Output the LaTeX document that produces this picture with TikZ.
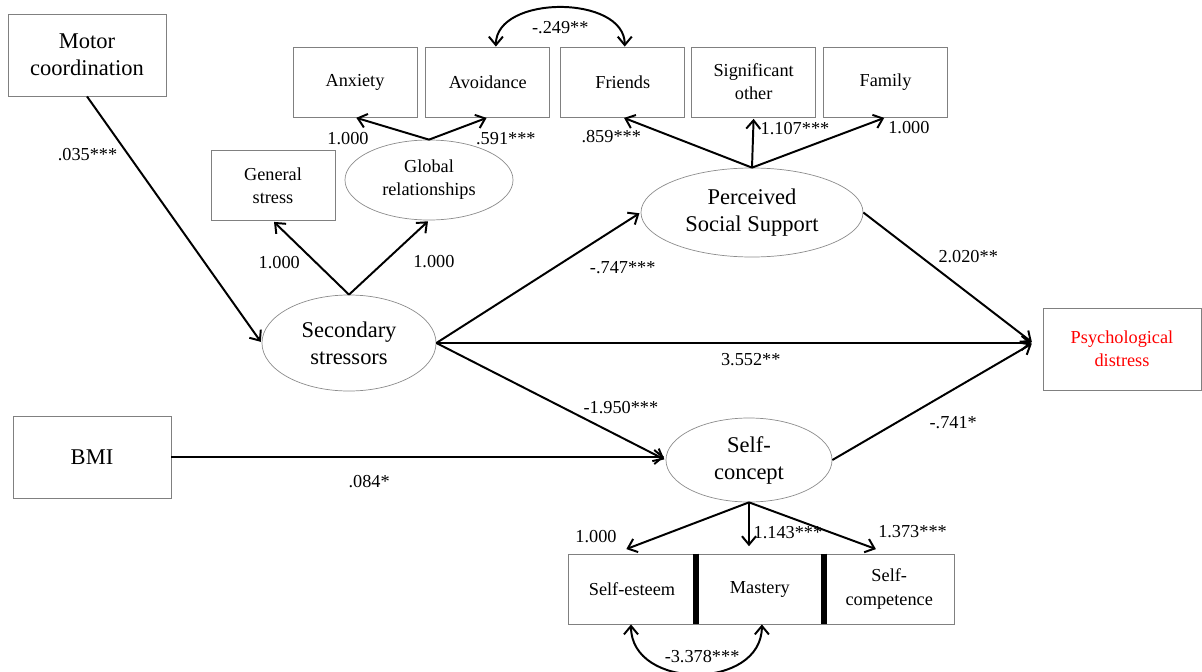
\documentclass[tikz,border=0pt]{standalone}
\usepackage{fontspec}
\setmainfont{Liberation Serif}
\usetikzlibrary{arrows.meta,positioning,shapes.geometric,calc}

\begin{document}
\begin{tikzpicture}[x=0.025cm,y=-0.025cm,->,>={Straight Barb[length=6pt,width=10pt]},shorten >=1pt,
        smallfont/.style={font=\fontsize{13}{16.4}\selectfont},
        bigfont/.style={font=\fontsize{16}{19.2}\selectfont},
        box/.style={rectangle,draw=black!50,line width=.6pt,align=center,inner sep=0pt,smallfont},
        ind/.style={box,minimum width=3.1cm,minimum height=1.75cm},
        bigbox/.style={box,minimum width=3.95cm,minimum height=2.05cm,bigfont},
        latent/.style={ellipse,draw=black!45,line width=.5pt,align=center,inner sep=0pt,bigfont},
        lab/.style={inner sep=0pt,smallfont},
        every edge/.style={draw,line width=1.4pt}]

  \useasboundingbox (0,0) rectangle (1202,671);

  \node[bigbox] (motor) at (87,55) {Motor\\coordination};
  \node[bigbox] (bmi) at (92,457) {BMI};
  \node[bigbox,smallfont,text=red] (psy) at (1122,349) {Psychological\\distress};

  \node[ind] (anx) at (355,82) {Anxiety};
  \node[ind] (avo) [right=0.2cm of anx] {Avoidance};
  \node[ind] (fri) [right=0.25cm of avo] {Friends};
  \node[ind] (sig) [right=0.15cm of fri] {Significant\\other};
  \node[ind] (fam) [right=0.175cm of sig] {Family};
  \node[ind] (gen) at (273,185.5) {General\\stress};

  \node[latent,smallfont,minimum width=4.2cm,minimum height=2cm] (glob) at (429,180) {Global\\relationships};
  \node[latent,minimum width=5.55cm,minimum height=2.225cm] (pss) at (752,212.5) {Perceived\\Social Support};
  \node[latent,minimum width=4.35cm,minimum height=2.4cm] (sec) at (349,343) {Secondary\\stressors};
  \node[latent,minimum width=4.15cm,minimum height=2.1cm] (self) at (749,460) {Self-\\concept};

  \node[ind,minimum width=3.175cm] (est) at (632,589) {Self-esteem};
  \node[ind,minimum width=3.175cm] (mas) [right=0pt of est] {Mastery};
  \node[ind,minimum width=3.25cm] (comp) [right=0pt of mas] {Self-\\competence};

  \coordinate (psyin) at (1033,343);

  \draw[-,shorten >=0pt,line width=4.3pt] (est.north east) -- (est.south east)
        (mas.north east) -- (mas.south east);

  \path (motor.south) edge node[lab,pos=.235,left=7pt] {.035***} (sec.west)
        (sec.north) edge node[lab,pos=.43,left=11pt] {1.000} (gen.south)
        (sec.north) edge node[lab,pos=.44,right=20pt] {1.000} (glob.south)
        (glob.north) edge node[lab,pos=1,below=9.8pt,xshift=-5pt] {1.000} (anx.south)
        (glob.north) edge node[lab,pos=1,below=9.8pt,xshift=12.8pt] {.591***} (avo.south)
        (pss.north) edge node[lab,pos=1,below=8.4pt,xshift=-8.2pt] {.859***} (fri.south)
        (pss.north) edge node[lab,pos=.78,right=4.6pt] {1.107***} (sig.south)
        (pss.north) edge node[lab,pos=.8,right=20.3pt] {1.000} (fam.south)
        (sec.east) edge node[lab,pos=.575,right=25pt] {-.747***} (pss.west)
        (sec.east) edge node[lab,pos=.527,below=6.4pt] {3.552**} (psyin)
        (sec.east) edge node[lab,pos=.55,right=14.3pt] {-1.950***} (self.west)
        (pss.east) edge node[lab,pos=.34,right=11.7pt] {2.020**} (psyin)
        (self.east) edge node[lab,pos=.32,right=22.8pt] {-.741*} (psyin)
        (bmi.east) edge node[lab,pos=.4,below=12pt] {.084*} (bmi.east -| self.west)
        (self.south) edge node[lab,pos=1,anchor=south east,xshift=-5.3pt,yshift=4.1pt] {1.000} ($(est.north)+(-7,-4)$)
        (self.south) edge node[lab,pos=.67,right=2.6pt] {1.143***} ($(self.south |- mas.north)+(0,-6)$)
        (self.south) edge node[lab,pos=1,anchor=south west,yshift=7.7pt] {1.373***} ($(comp.north)+(-12,-4)$);

  \draw[<->,line width=1.4pt,shorten >=0pt] ($(avo.north)+(8,0)$) .. controls ($(avo.north)+(8,-52)$) and ($(fri.north)+(2,-52)$) .. ($(fri.north)+(2,0)$)
        node[lab,pos=.5,below=9pt] {-.249**};
  \draw[<->,line width=1.4pt,shorten >=0pt] ($(est.south)+(-1,0)$) .. controls ($(est.south)+(-1,66)$) and ($(mas.south)+(2,66)$) .. ($(mas.south)+(2,0)$)
        node[lab,pos=.5,above=7pt,xshift=4pt] {-3.378***};

\end{tikzpicture}
\end{document}
